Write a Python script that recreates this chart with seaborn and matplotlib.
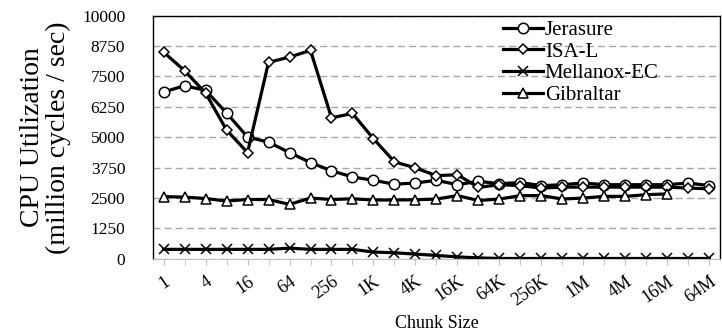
import pandas as pd
import matplotlib
matplotlib.use("Agg")
import matplotlib.pyplot as plt
import seaborn as sns

# chunk sizes 1 .. 64M (powers of two), label every other one
sizes = ["1", "2", "4", "8", "16", "32", "64", "128", "256", "512",
         "1K", "2K", "4K", "8K", "16K", "32K", "64K", "128K", "256K", "512K",
         "1M", "2M", "4M", "8M", "16M", "32M", "64M"]
tick_labels = ["1", "4", "16", "64", "256", "1K", "4K", "16K", "64K", "256K",
               "1M", "4M", "16M", "64M"]

jerasure = [6860, 7120, 6930, 6000, 5010, 4800, 4370, 3960, 3620, 3370,
            3230, 3070, 3120, 3230, 3050, 3190, 3090, 3140, 3010, 3050,
            3120, 3050, 3050, 3050, 3050, 3120, 3010]
isal = [8500, 7740, 6820, 5300, 4370, 8080, 8300, 8570, 5800, 5980,
        4940, 3990, 3740, 3420, 3460, 2940, 3050, 3010, 2910, 2950,
        2950, 2950, 2950, 2950, 2950, 2910, 2880]
mellanox = [390, 390, 390, 390, 390, 390, 440, 390, 390, 390,
            280, 250, 195, 140, 80, 40, 15, 15, 15, 15,
            15, 15, 15, 15, 15, 15, 15]
gibraltar = [2560, 2540, 2480, 2380, 2440, 2440, 2240, 2500, 2440, 2470,
             2420, 2420, 2430, 2460, 2600, 2400, 2460, 2600, 2600, 2460,
             2500, 2570, 2570, 2640, 2670]

series = [("Jerasure", jerasure, "o", 7.5),
          ("ISA-L", isal, "D", 5.5),
          ("Mellanox-EC", mellanox, "x", 7.5),
          ("Gibraltar", gibraltar, "^", 7.5)]

plt.rcParams["font.family"] = ["Liberation Serif", "DejaVu Serif"]

fig = plt.figure(figsize=(7.22, 3.34), dpi=100)
ax = fig.add_axes([0.212, 0.225, 0.785, 0.728])

for name, vals, mk, ms in series:
    df = pd.DataFrame({"x": range(len(vals)), "y": vals})
    sns.lineplot(data=df, x="x", y="y", ax=ax, color="black", linewidth=2.3,
                 marker=mk, markersize=ms, markerfacecolor="white",
                 markeredgecolor="black", markeredgewidth=1.1, label=name)

ax.set_xlim(-0.5, len(sizes) - 0.5)
ax.set_ylim(0, 10000)
ax.set_yticks(range(0, 10001, 1250))
ax.tick_params(axis="y", labelsize=12.5, length=0, pad=20)
ax.set_xticks(range(0, len(sizes), 2))
ax.set_xticklabels(tick_labels, rotation=35, ha="right", va="top",
                   rotation_mode="anchor", fontsize=13)
ax.set_xticks(range(len(sizes)), minor=True)
ax.tick_params(axis="x", which="both", length=4, color="#bfbfbf", pad=6)
ax.grid(axis="y", linestyle=(0, (5, 3)), color="#a6a6a6", linewidth=1)
ax.set_axisbelow(True)

for s in ["left", "top", "right"]:
    ax.spines[s].set_color("black")
    ax.spines[s].set_linewidth(1)
ax.spines["bottom"].set_color("#bfbfbf")

ax.set_xlabel("Chunk Size", fontsize=13, labelpad=4)
ax.set_ylabel("CPU Utilization\n(million cycles / sec)", fontsize=20,
              labelpad=8, linespacing=1.05)

leg = ax.legend(loc="upper left", bbox_to_anchor=(0.603, 1.015), frameon=False,
                fontsize=15, handlelength=1.9, handletextpad=0.1,
                labelspacing=0.1, borderaxespad=0)

fig.savefig("out.png", dpi=100)
